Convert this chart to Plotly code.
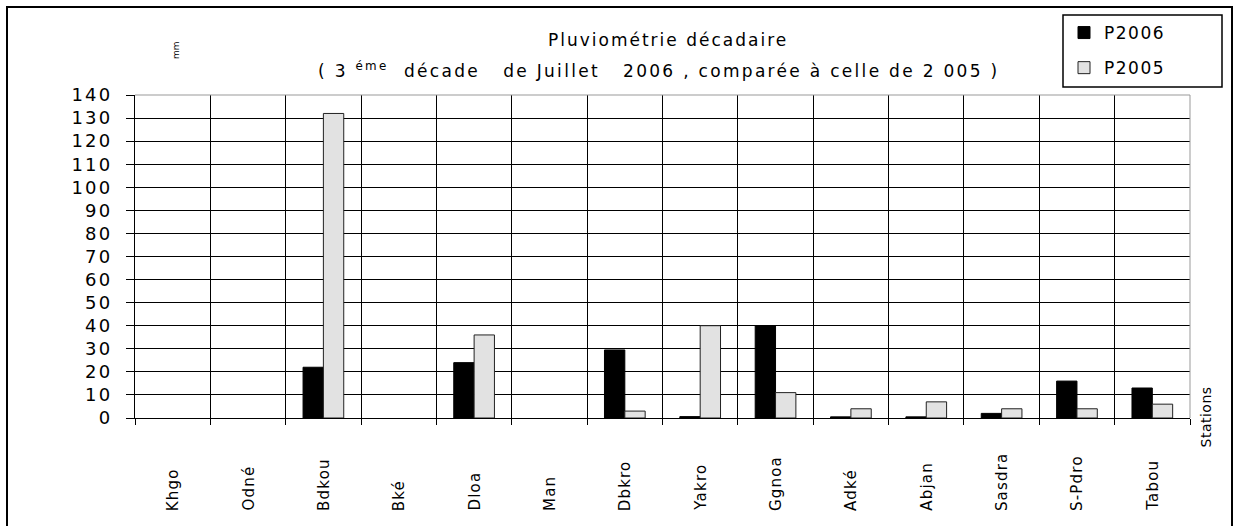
import plotly.graph_objects as go

stations = ["Khgo", "Odné", "Bdkou", "Bké", "Dloa", "Man", "Dbkro", "Yakro",
            "Ggnoa", "Adké", "Abjan", "Sasdra", "S-Pdro", "Tabou"]
p2006 = [None, None, 22, None, 24, None, 29.5, 0.6, 40, 0.5, 0.5, 2, 16, 13]
p2005 = [None, None, 132, None, 36, None, 3, 40, 11, 4, 7, 4, 4, 6]
y_ticks = list(range(0, 141, 10))

W, H = 1238, 526
L, R, T, B = 135, 48, 95, 108
PW, PH = W - L - R, H - T - B


def px(x):
    return (x - L) / PW


def py(y):
    return (H - B - y) / PH


def spaced(s, sp):
    return f'<span style="letter-spacing:{sp}px">{s}</span>'


FONT = "DejaVu Sans, Verdana, sans-serif"

fig = go.Figure()
fig.add_trace(go.Bar(x=stations, y=p2006, name=spaced("P2006", 1.5), legendgroup="a",
                     marker=dict(color="#000000", line=dict(color="#000000", width=1))))
fig.add_trace(go.Bar(x=stations, y=p2005, name=spaced("P2005", 1.5), legendgroup="b",
                     marker=dict(color="#e2e2e2", line=dict(color="#222222", width=1))))

annotations = [
    dict(text=spaced("Pluviométrie décadaire", 2.0), x=px(668), y=py(40),
         xref="paper", yref="paper", xanchor="center", yanchor="middle",
         showarrow=False, font=dict(size=17, family=FONT, color="#000")),
    dict(text=spaced("( 3 <sup>éme</sup> \u00a0décade \u00a0 de Juillet \u00a0 2006 , comparée à celle de 2 005 )", 2.3),
         x=px(658), y=py(70), xref="paper", yref="paper", xanchor="center", yanchor="middle",
         showarrow=False, font=dict(size=17, family=FONT, color="#000")),
    dict(text="mm", x=px(176), y=py(50), xref="paper", yref="paper", textangle=-90,
         xanchor="center", yanchor="middle",
         showarrow=False, font=dict(size=9, family=FONT, color="#000")),
    dict(text=spaced("Stations", 0.5), x=px(1205), y=py(450), xref="paper", yref="paper",
         textangle=-90, xanchor="center", yanchor="bottom", showarrow=False,
         font=dict(size=14, family=FONT, color="#000")),
]
for s in stations:
    annotations.append(dict(text=spaced(s, 1.2), x=s, xref="x", y=py(513), yref="paper",
                            textangle=-90, xanchor="center", yanchor="bottom",
                            showarrow=False,
                            font=dict(size=15, family=FONT, color="#000")))

shapes = [
    # outer chart border
    dict(type="rect", xref="paper", yref="paper", x0=px(7), x1=px(1232), y0=py(540), y1=py(7),
         line=dict(color="#000", width=2), fillcolor="rgba(0,0,0,0)", layer="below"),
    # legend box
    dict(type="rect", xref="paper", yref="paper", x0=px(1063), x1=px(1222), y0=py(87), y1=py(15),
         line=dict(color="#000", width=1.5), fillcolor="rgba(0,0,0,0)"),
    # plot area top and right edges (grey)
    dict(type="line", xref="paper", yref="paper", x0=0, x1=1, y0=1, y1=1,
         line=dict(color="#999", width=1)),
    dict(type="line", xref="paper", yref="paper", x0=1, x1=1, y0=0, y1=1,
         line=dict(color="#999", width=1)),
]

fig.update_layout(
    width=W, height=H, autosize=False,
    margin=dict(l=L, r=R, t=T, b=B, pad=0),
    paper_bgcolor="white", plot_bgcolor="white",
    barmode="group", bargap=0.46, bargroupgap=0,
    font=dict(family=FONT, color="#000"),
    showlegend=True,
    legend=dict(x=px(1064), y=py(15), xanchor="left", yanchor="top",
                bgcolor="rgba(0,0,0,0)", borderwidth=0,
                traceorder="grouped", tracegroupgap=10,
                font=dict(size=17, family=FONT, color="#000")),
    xaxis=dict(type="category", range=[-0.5, len(stations) - 0.5], tickson="boundaries",
               ticks="outside", ticklen=6, tickcolor="#000", tickwidth=1,
               showgrid=True, gridcolor="#000", gridwidth=1,
               showline=True, linecolor="#000", linewidth=1,
               showticklabels=False, fixedrange=True),
    yaxis=dict(range=[0, 140], tickvals=y_ticks,
               ticktext=[spaced(str(v), 2.2) for v in y_ticks],
               ticks="outside", ticklen=8, ticklabelstandoff=10,
               tickcolor="#000", tickwidth=1,
               showgrid=True, gridcolor="#000", gridwidth=1, zeroline=False,
               showline=True, linecolor="#000", linewidth=1,
               tickfont=dict(size=18, family=FONT, color="#000")),
    annotations=annotations,
    shapes=shapes,
)

fig.write_html("out.html", config={"displayModeBar": False},
               post_script="document.body.style.margin='0';")
